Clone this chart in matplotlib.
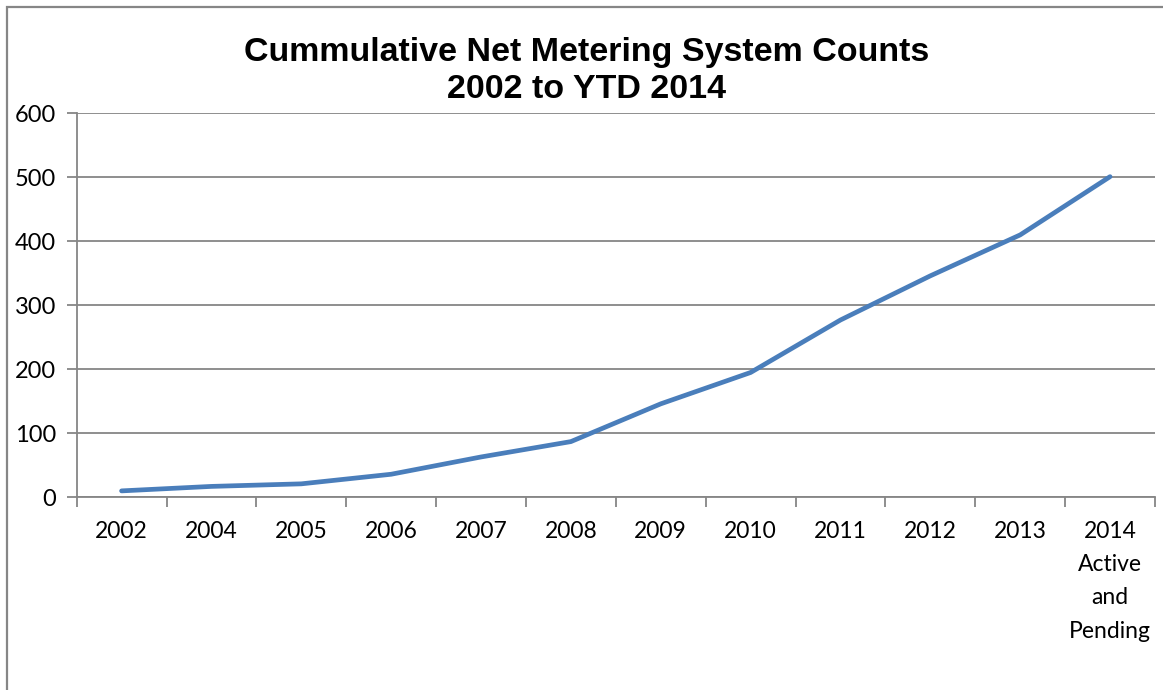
import matplotlib.pyplot as plt
from matplotlib.patches import Rectangle

# cumulative net metering systems per year
years = ['2002', '2004', '2005', '2006', '2007', '2008', '2009', '2010',
         '2011', '2012', '2013', '2014\nActive\nand\nPending']
counts = [10, 17, 21, 36, 63, 87, 146, 195, 277, 346, 410, 501]

line_color = '#4A7EBB'
grid_color = '#868686'

fig = plt.figure(figsize=(11.63, 6.90), dpi=100)
ax = fig.add_axes([0.0659, 0.2793, 0.9272, 0.5565])

x = list(range(len(years)))
ax.plot(x, counts, color=line_color, linewidth=3.4, solid_capstyle='round',
        solid_joinstyle='round', zorder=3)

ax.set_xlim(-0.5, len(years) - 0.5)
ax.set_ylim(0, 600)
ax.set_yticks(range(0, 601, 100))
ax.yaxis.grid(True, color=grid_color, linewidth=1.3)
ax.set_axisbelow(True)

# category boundaries get the tick marks, labels sit in the middle
ax.set_xticks([i - 0.5 for i in range(len(years) + 1)])
ax.set_xticklabels([])
ax.set_xticks(x, minor=True)
ax.set_xticklabels(years, minor=True, fontfamily='Lato', fontsize=16.5,
                   linespacing=1.72, va='top')
ax.tick_params(axis='x', which='major', length=7, width=1.3, color=grid_color)
ax.tick_params(axis='x', which='minor', length=0, pad=17)
ax.tick_params(axis='y', length=7, width=1.3, color=grid_color, pad=8,
               labelsize=17)
for lbl in ax.get_yticklabels():
    lbl.set_fontfamily('Lato')

for side in ['top', 'right']:
    ax.spines[side].set_visible(False)
ax.spines['left'].set_color(grid_color)
ax.spines['left'].set_linewidth(1.3)
ax.spines['bottom'].set_color(grid_color)
ax.spines['bottom'].set_linewidth(1.3)

title_kw = dict(ha='center', va='center', fontfamily='Liberation Sans',
                fontweight='bold', fontsize=24.5)
fig.text(0.5042, 1 - 52 / 690, 'Cummulative Net Metering System Counts', **title_kw)
fig.text(0.5042, 1 - 90 / 690, '2002 to YTD 2014', **title_kw)

# chart frame
fig.patches.append(Rectangle((7 / 1163, -0.1), 1.2, 1 - 7 / 690 + 0.1,
                             transform=fig.transFigure, fill=False,
                             edgecolor=grid_color, linewidth=1.6))

fig.savefig('out.png', dpi=100)
